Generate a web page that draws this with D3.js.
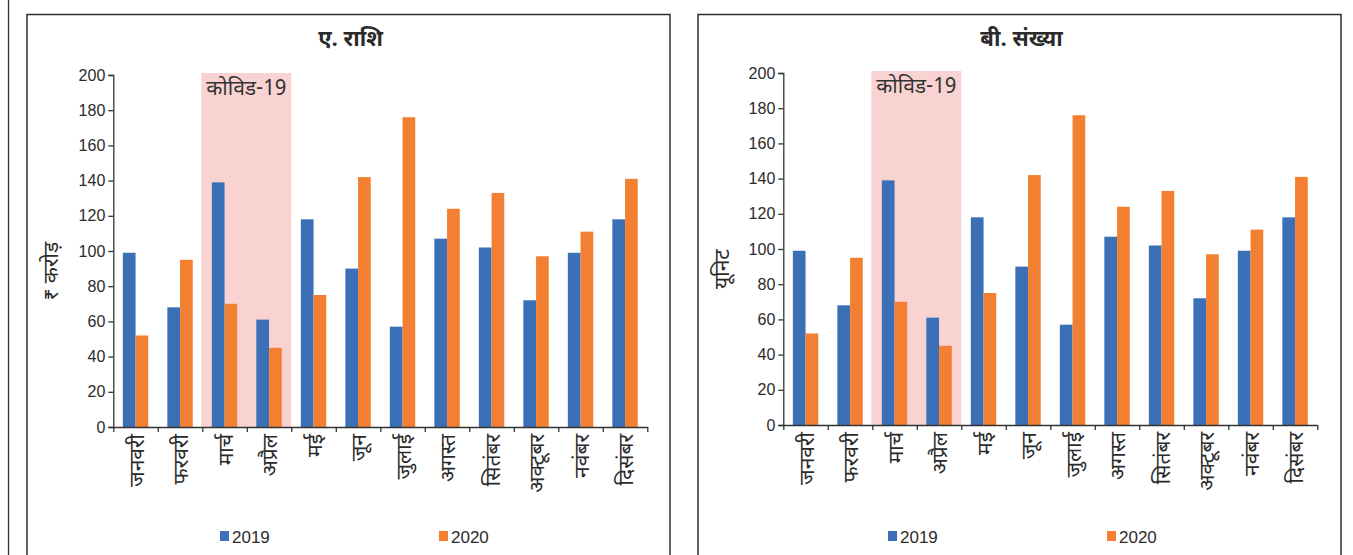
<!DOCTYPE html>
<html>
<head>
<meta charset="utf-8">
<script src="https://cdn.jsdelivr.net/npm/d3@7/dist/d3.min.js"></script>
<style>
  html, body { margin: 0; padding: 0; background: #fff; }
  svg { display: block; }
  .hi { font-family: "Noto Sans Devanagari", "Lohit Devanagari", "Noto Sans", "FreeSans", sans-serif; }
  .num { font-family: "Liberation Sans", Arial, sans-serif; }
</style>
</head>
<body>
<svg id="chart" width="1353" height="555"></svg>
<script>
// Monthly figures for 2019 and 2020
const months = ["जनवरी", "फरवरी", "मार्च", "अप्रैल", "मई", "जून", "जुलाई", "अगस्त", "सितंबर", "अक्टूबर", "नवंबर", "दिसंबर"];
const years = ["2019", "2020"];
const amount2019 = [99, 68, 139, 61, 118, 90, 57, 107, 102, 72, 99, 118];
const amount2020 = [52, 95, 70, 45, 75, 142, 176, 124, 133, 97, 111, 141];
const count2019 = [99, 68, 139, 61, 118, 90, 57, 107, 102, 72, 99, 118];
const count2020 = [52, 95, 70, 45, 75, 142, 176, 124, 133, 97, 111, 141];
const yTicks = [0, 20, 40, 60, 80, 100, 120, 140, 160, 180, 200];
const covidMonths = ["मार्च", "अप्रैल"];
const covidLabel = "कोविड-19";

const colors = { "2019": "#3b70b7", "2020": "#f38032" };
const ink = "#2b2b2b";

const svg = d3.select("#chart");

// outer frame line on the far left
svg.append("line")
  .attr("x1", 8.5).attr("x2", 8.5).attr("y1", 0).attr("y2", 555)
  .attr("stroke", "#333").attr("stroke-width", 1.3);

const panels = [
  { x: 27, title: "ए. राशि", yLabel: "₹ करोड़", s2019: amount2019, s2020: amount2020, axisX: 113.3, yBottom: 427, yTop: 75, legend: [193, 412] },
  { x: 698, title: "बी. संख्या", yLabel: "यूनिट", s2019: count2019, s2020: count2020, axisX: 783.3, yBottom: 425, yTop: 73, legend: [190, 409] }
];

panels.forEach(p => {
  const g = svg.append("g");
  const pw = 643;

  // panel border
  g.append("rect")
    .attr("x", p.x).attr("y", 14.5)
    .attr("width", pw).attr("height", 600)
    .attr("fill", "none").attr("stroke", "#333").attr("stroke-width", 1.5);

  // title
  g.append("text").attr("class", "hi")
    .attr("x", p.x + pw / 2 + 2).attr("y", 46)
    .attr("text-anchor", "middle")
    .attr("font-size", 22).attr("font-weight", "bold")
    .attr("fill", ink)
    .text(p.title);

  const plotW = 534;
  const x = d3.scaleBand().domain(months).range([p.axisX, p.axisX + plotW]).padding(0);
  const xIn = d3.scaleBand().domain(years)
    .range([x.bandwidth() * 0.2145, x.bandwidth() * (1 - 0.2145)]).padding(0);
  const y = d3.scaleLinear().domain([0, 200]).range([p.yBottom, p.yTop]);

  // COVID-19 highlight band
  const cx0 = x(covidMonths[0]) - 1;
  const cx1 = x(covidMonths[covidMonths.length - 1]) + x.bandwidth();
  g.append("rect")
    .attr("x", cx0).attr("y", p.yTop - 2)
    .attr("width", cx1 - cx0).attr("height", y(0) - (p.yTop - 2))
    .attr("fill", "#f9d3d2");
  g.append("text").attr("class", "hi")
    .attr("x", (cx0 + cx1) / 2).attr("y", p.yTop + 20)
    .attr("text-anchor", "middle")
    .attr("font-size", 21).attr("fill", "#333")
    .text(covidLabel);

  // bars
  const rows = months.map((m, i) => ({ month: m, vals: [
    { year: "2019", v: p.s2019[i] },
    { year: "2020", v: p.s2020[i] }
  ]}));
  const grp = g.selectAll("g.month").data(rows).join("g")
    .attr("class", "month")
    .attr("transform", d => `translate(${x(d.month)},0)`);
  grp.selectAll("rect").data(d => d.vals).join("rect")
    .attr("x", d => xIn(d.year))
    .attr("width", xIn.bandwidth())
    .attr("y", d => y(d.v))
    .attr("height", d => y(0) - y(d.v))
    .attr("fill", d => colors[d.year]);

  // y axis
  const yAxis = g.append("g")
    .attr("transform", `translate(${p.axisX},0)`)
    .call(d3.axisLeft(y).tickValues(yTicks).tickSize(5).tickPadding(3));
  yAxis.selectAll("path, line").attr("stroke", "#333").attr("stroke-width", 1.3);
  yAxis.selectAll("text").attr("class", "num").attr("font-size", 16).attr("fill", ink);

  // x axis with ticks on category boundaries
  const xb = d3.scaleLinear().domain([0, months.length]).range([p.axisX, p.axisX + plotW]);
  const xAxis = g.append("g")
    .attr("transform", `translate(0,${y(0)})`)
    .call(d3.axisBottom(xb).tickValues(d3.range(months.length + 1)).tickSize(5).tickSizeOuter(0).tickFormat(""));
  xAxis.selectAll("path, line").attr("stroke", "#333").attr("stroke-width", 1.3);

  // month labels, rotated
  g.selectAll("text.month").data(months).join("text")
    .attr("class", "hi month")
    .attr("transform", d => `translate(${x(d) + x.bandwidth() / 2 + 1},${y(0) + 7}) rotate(-90)`)
    .attr("text-anchor", "end")
    .attr("dy", "0.35em")
    .attr("font-size", 21).attr("fill", ink)
    .text(d => d);

  // y axis title
  g.append("text").attr("class", "hi")
    .attr("transform", `translate(${p.x + 24},${(p.yTop + p.yBottom) / 2 + 20}) rotate(-90)`)
    .attr("text-anchor", "middle")
    .attr("dy", "0.35em")
    .attr("font-size", 21).attr("fill", ink)
    .text(p.yLabel);

  // legend
  years.forEach((yr, i) => {
    const lx = p.x + p.legend[i];
    g.append("rect").attr("x", lx).attr("y", 531).attr("width", 9).attr("height", 10)
      .attr("fill", colors[yr]);
    g.append("text").attr("class", "num")
      .attr("x", lx + 12).attr("y", 543)
      .attr("font-size", 17).attr("fill", ink)
      .text(yr);
  });
});
</script>
</body>
</html>
